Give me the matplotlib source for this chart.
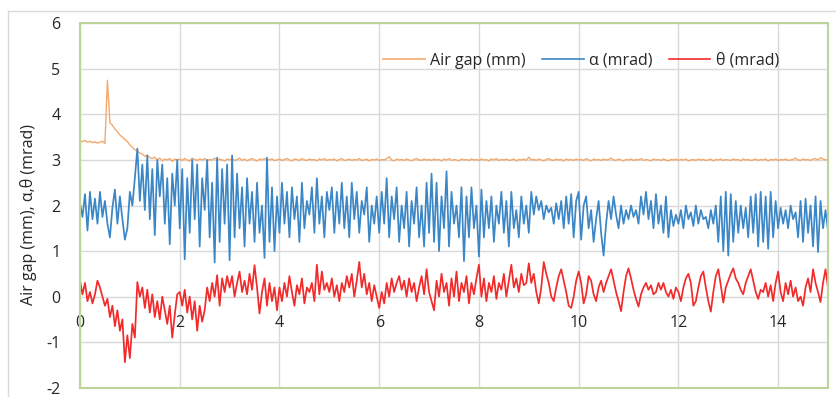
"""Air gap and pitch/roll angle time history (Excel-style line chart)."""

import matplotlib

matplotlib.use("Agg")
import matplotlib.pyplot as plt
import numpy as np
from matplotlib.lines import Line2D
from matplotlib.patches import Rectangle

plt.rcParams["font.family"] = ["Open Sans", "DejaVu Sans"]
plt.rcParams["axes.unicode_minus"] = False

DT = 0.05

air_gap = [
    3.42, 3.40, 3.43, 3.39, 3.41, 3.38, 3.40, 3.37, 3.39, 3.41, 3.36, 4.75, 3.82, 3.76, 3.68, 3.62, 3.55, 3.50, 3.45, 3.40,
    3.33, 3.28, 3.22, 3.20, 3.15, 3.13, 3.08, 3.10, 3.05, 3.03, 3.06, 3.00, 3.04, 2.98, 3.02, 3.00, 3.03, 2.97, 3.02, 3.00,
    3.02, 2.99, 3.03, 3.00, 2.98, 3.04, 3.01, 2.99, 3.02, 3.00, 3.03, 2.98, 3.01, 3.00, 3.04, 2.99, 3.02, 3.00, 2.98, 3.02,
    3.00, 3.03, 2.99, 3.01, 3.04, 2.99, 3.02, 2.98, 3.01, 3.03, 3.00, 2.98, 3.02, 3.00, 3.03, 2.99, 3.01, 3.02, 2.99, 3.00,
    3.02, 2.99, 3.01, 3.03, 3.00, 2.98, 3.02, 3.01, 2.99, 3.03, 3.00, 2.99, 3.02, 3.00, 3.01, 2.98, 3.02, 3.00, 3.03, 2.99,
    3.01, 3.00, 3.02, 2.98, 3.01, 3.03, 2.99, 3.00, 3.02, 2.99, 3.01, 3.00, 3.03, 2.99, 3.00, 3.02, 2.98, 3.01, 3.00, 3.02,
    2.99, 3.01, 3.00, 3.03, 3.07, 3.00, 2.98, 3.02, 3.00, 3.01, 2.99, 3.02, 3.00, 2.98, 3.01, 3.03, 3.00, 2.99, 3.02, 3.00,
    3.01, 2.99, 3.02, 3.00, 3.01, 2.98, 3.02, 3.00, 3.03, 2.99, 3.01, 3.00, 2.98, 3.02, 3.00, 3.01, 2.99, 3.02, 3.00, 3.01,
    2.99, 3.02, 3.00, 3.01, 2.98, 3.02, 3.00, 3.03, 2.99, 3.01, 3.00, 3.02, 2.99, 3.00, 3.02, 2.98, 3.01, 3.00, 3.02, 2.99,
    3.06, 3.00, 3.01, 2.99, 3.02, 3.00, 2.98, 3.01, 3.03, 3.00, 2.99, 3.02, 3.00, 3.01, 2.98, 3.02, 3.00, 3.01, 2.99, 3.02,
    3.00, 3.01, 2.99, 3.03, 3.00, 2.98, 3.02, 3.00, 3.01, 2.99, 3.02, 3.00, 3.01, 3.04, 3.00, 2.99, 3.02, 3.00, 2.98, 3.01,
    3.00, 3.02, 2.99, 3.01, 3.00, 3.03, 2.99, 3.01, 3.00, 2.98, 3.02, 3.00, 3.01, 2.99, 3.02, 3.00, 2.98, 3.01, 3.00, 3.02,
    2.99, 3.01, 3.00, 3.02, 2.98, 3.00, 3.01, 2.99, 3.02, 3.00, 3.01, 2.99, 3.00, 3.02, 2.98, 3.01, 3.00, 3.02, 2.99, 3.01,
    3.00, 2.99, 3.02, 3.00, 3.01, 2.98, 3.02, 3.00, 3.01, 2.99, 3.00, 3.02, 2.99, 3.01, 3.00, 3.02, 2.98, 3.01, 3.00, 3.02,
    2.99, 3.01, 3.00, 3.02, 2.99, 3.00, 3.01, 3.04, 3.00, 2.99, 3.02, 3.00, 3.01, 2.99, 3.02, 3.03, 3.00, 3.05, 3.02, 3.00,
    3.01,
]

alpha = [
    2.05, 1.75, 2.25, 1.45, 2.30, 1.70, 2.15, 1.60, 2.30, 1.75, 2.10, 1.60, 1.30, 1.95, 2.35, 1.60, 2.20, 1.70, 1.25, 1.50,
    2.30, 2.00, 2.60, 3.25, 2.10, 2.90, 1.90, 3.10, 1.70, 2.80, 1.35, 3.00, 2.20, 2.90, 1.60, 2.60, 1.15, 2.70, 2.00, 3.00,
    1.50, 2.80, 0.82, 2.60, 1.40, 3.00, 1.70, 2.90, 1.10, 2.60, 1.90, 3.00, 1.30, 2.50, 0.75, 3.05, 1.20, 2.80, 1.60, 2.90,
    0.80, 3.10, 1.30, 2.70, 1.50, 2.40, 1.10, 2.60, 1.60, 2.30, 1.20, 2.50, 1.40, 2.00, 0.85, 3.05, 1.20, 2.40, 1.00, 2.20,
    1.40, 2.50, 1.60, 2.30, 1.30, 2.40, 1.70, 2.20, 1.20, 2.50, 1.50, 2.10, 1.80, 2.40, 1.40, 2.60, 1.60, 2.20, 1.30, 2.30,
    1.90, 2.40, 1.40, 2.30, 1.60, 2.50, 1.50, 2.20, 1.30, 2.50, 1.70, 2.30, 1.40, 2.10, 1.80, 2.40, 1.20, 2.00, 1.60, 2.20,
    1.40, 2.30, 1.60, 2.60, 1.30, 2.20, 1.70, 2.40, 1.20, 2.00, 1.50, 2.30, 1.10, 2.10, 1.60, 2.40, 1.30, 2.00, 1.10, 2.50,
    1.40, 2.70, 1.20, 2.50, 1.00, 2.20, 1.50, 2.75, 1.10, 2.30, 1.60, 2.00, 1.30, 2.40, 0.78, 2.20, 1.30, 2.40, 1.50, 2.00,
    0.88, 2.35, 1.30, 2.10, 1.50, 2.20, 1.20, 2.00, 1.60, 2.30, 1.40, 2.10, 1.10, 2.30, 1.50, 1.90, 1.30, 2.20, 1.60, 2.00,
    1.40, 2.30, 1.80, 2.20, 1.90, 2.10, 1.70, 2.00, 1.85, 1.95, 1.60, 2.05, 1.70, 2.10, 1.50, 2.20, 1.60, 2.25, 1.30, 2.10,
    2.30, 1.25, 2.00, 2.20, 1.50, 1.90, 1.20, 1.70, 2.10, 1.40, 0.90, 1.60, 2.10, 1.70, 2.20, 1.80, 1.50, 2.00, 1.60, 1.90,
    1.70, 2.00, 1.75, 1.90, 1.60, 2.20, 1.80, 2.30, 1.70, 2.10, 1.50, 2.25, 1.60, 2.00, 1.40, 2.20, 1.30, 1.90, 1.55, 1.80,
    1.60, 1.90, 1.50, 2.00, 1.70, 1.85, 1.55, 2.00, 1.60, 1.90, 1.70, 1.75, 1.50, 1.90, 1.60, 2.00, 1.20, 2.20, 1.00, 2.30,
    0.90, 2.25, 1.20, 2.10, 1.40, 2.00, 1.50, 1.95, 1.30, 2.20, 1.40, 2.25, 1.10, 2.30, 1.20, 2.20, 1.05, 2.30, 1.30, 2.10,
    1.50, 1.95, 1.60, 1.90, 1.50, 2.00, 1.70, 1.85, 1.30, 2.10, 1.20, 2.15, 1.40, 2.00, 1.10, 2.20, 0.98, 2.10, 1.50, 1.90,
    1.45,
]

theta = [
    0.35, 0.05, 0.30, -0.10, 0.10, -0.15, 0.05, 0.35, 0.20, 0.00, -0.20, -0.05, -0.45, -0.20, -0.65, -0.30, -0.75, -0.50, -1.44, -0.85,
    -1.35, -0.60, -0.90, 0.32, 0.00, 0.20, -0.25, 0.15, -0.35, 0.05, -0.45, -0.10, -0.50, 0.00, -0.30, -0.60, -0.20, -0.90, -0.40, 0.05,
    0.10, -0.20, 0.15, -0.35, 0.00, -0.50, -0.10, -0.75, -0.20, -0.55, -0.30, 0.20, -0.10, 0.30, 0.00, 0.47, -0.20, 0.40, 0.10, 0.45,
    0.20, 0.45, 0.00, 0.30, 0.55, 0.10, 0.35, 0.05, 0.50, 0.15, 0.69, 0.20, -0.37, 0.10, 0.40, -0.20, 0.30, -0.10, 0.20, -0.30,
    0.20, -0.10, 0.30, 0.00, 0.45, 0.10, -0.20, 0.25, 0.05, 0.40, -0.15, 0.20, 0.10, 0.30, -0.10, 0.70, 0.05, 0.55, 0.15, 0.30,
    0.10, 0.40, 0.00, 0.25, -0.10, 0.30, 0.10, 0.45, 0.20, 0.50, 0.00, 0.35, 0.76, 0.20, 0.50, 0.05, 0.30, -0.10, 0.25, 0.00,
    -0.25, 0.10, -0.15, 0.30, 0.00, 0.40, 0.10, 0.30, 0.45, 0.15, 0.35, 0.00, 0.40, 0.10, 0.30, -0.10, 0.20, 0.45, 0.05, 0.60,
    0.10, -0.10, -0.30, 0.35, 0.00, 0.50, 0.10, 0.30, -0.20, 0.40, 0.00, 0.55, -0.10, 0.30, 0.10, 0.45, -0.15, 0.30, 0.05, 0.40,
    0.70, 0.00, 0.40, -0.10, 0.30, 0.10, 0.45, -0.05, 0.30, 0.15, 0.50, 0.00, 0.35, 0.70, 0.20, 0.40, 0.10, 0.50, 0.25, 0.30,
    0.73, 0.30, 0.50, 0.10, -0.15, 0.20, 0.76, 0.50, 0.30, 0.00, -0.10, 0.20, 0.45, 0.60, 0.35, 0.10, -0.20, -0.25, 0.00, 0.35,
    0.55, 0.30, -0.15, 0.05, 0.45, 0.35, 0.05, -0.10, 0.20, 0.35, 0.10, 0.30, 0.45, 0.60, 0.35, 0.10, -0.10, -0.32, 0.10, 0.45,
    0.62, 0.40, 0.15, -0.05, -0.22, 0.05, 0.20, 0.30, 0.15, 0.25, 0.05, 0.10, 0.30, 0.15, 0.30, 0.10, 0.00, 0.15, -0.05, 0.20,
    0.10, -0.10, 0.20, 0.40, 0.50, 0.30, -0.20, -0.10, 0.20, 0.45, 0.55, 0.20, -0.10, -0.33, 0.10, 0.45, 0.60, 0.25, -0.13, 0.20,
    0.35, 0.50, 0.62, 0.40, 0.30, 0.15, 0.05, 0.30, 0.45, 0.60, 0.35, 0.10, -0.05, 0.15, 0.10, 0.30, 0.00, 0.25, -0.10, 0.30,
    0.55, 0.10, -0.10, 0.30, 0.05, 0.35, 0.00, 0.20, -0.10, 0.00, -0.20, 0.20, 0.40, 0.10, 0.60, 0.30, 0.10, -0.12, 0.30, 0.60,
    0.20,
]

series_labels = ["Air gap (mm)", "\u03b1 (mrad)", "\u03b8 (mrad)"]
series_colors = ["#F2A96E", "#3A86C6", "#F22A2A"]
x_ticks = [0, 2, 4, 6, 8, 10, 12, 14]
y_ticks = [-2, -1, 0, 1, 2, 3, 4, 5, 6]

fig = plt.figure(figsize=(8.37, 3.97), dpi=100)
ax = fig.add_axes([80 / 837, 9.3 / 397, 748 / 837, 364.4 / 397])

for vals, color, lw in zip([air_gap, alpha, theta], series_colors, [1.0, 1.25, 1.25]):
    t = np.arange(len(vals)) * DT
    ax.plot(t, vals, color=color, lw=lw, solid_joinstyle="round")

ax.set_xlim(0, 15)
ax.set_ylim(-2, 6)
ax.set_xticks(x_ticks)
ax.set_yticks(y_ticks)
ax.grid(True, color="#D9D9D9", lw=1.0)
ax.set_axisbelow(True)

for side in ["left", "right", "top"]:
    ax.spines[side].set_visible(False)
ax.spines["bottom"].set_position(("data", 0))
ax.spines["bottom"].set_color("none")
ax.tick_params(axis="both", length=0, labelsize=11.5, colors="#262626")
ax.tick_params(axis="y", pad=14)
ax.tick_params(axis="x", pad=13)

ax.add_patch(Rectangle((0, 0), 1, 1, transform=ax.transAxes, fill=False,
                       edgecolor="#BCD39A", lw=1.5, clip_on=False, zorder=5))

ax.set_ylabel("Air gap (mm), \u03b1,\u03b8 (mrad)", fontsize=11.5, color="#262626")
ax.yaxis.set_label_coords(-0.057, 0.474)

# outer chart frame (top and left edges visible in the original)
fig.add_artist(Line2D([8 / 837, 1], [1 - 11 / 397, 1 - 11 / 397], color="#D9D9D9", lw=1.0))
fig.add_artist(Line2D([8 / 837, 8 / 837], [0, 1 - 11 / 397], color="#D9D9D9", lw=1.0))

handles = [Line2D([], [], color=c, lw=1.2) for c in series_colors]
ax.legend(handles, series_labels, ncol=3, frameon=False, fontsize=11.5,
          loc="center", bbox_to_anchor=(0.67, 0.897), handlelength=2.6,
          handletextpad=0.35, columnspacing=1.0, labelcolor="#262626")

fig.savefig("out.png", dpi=100)
